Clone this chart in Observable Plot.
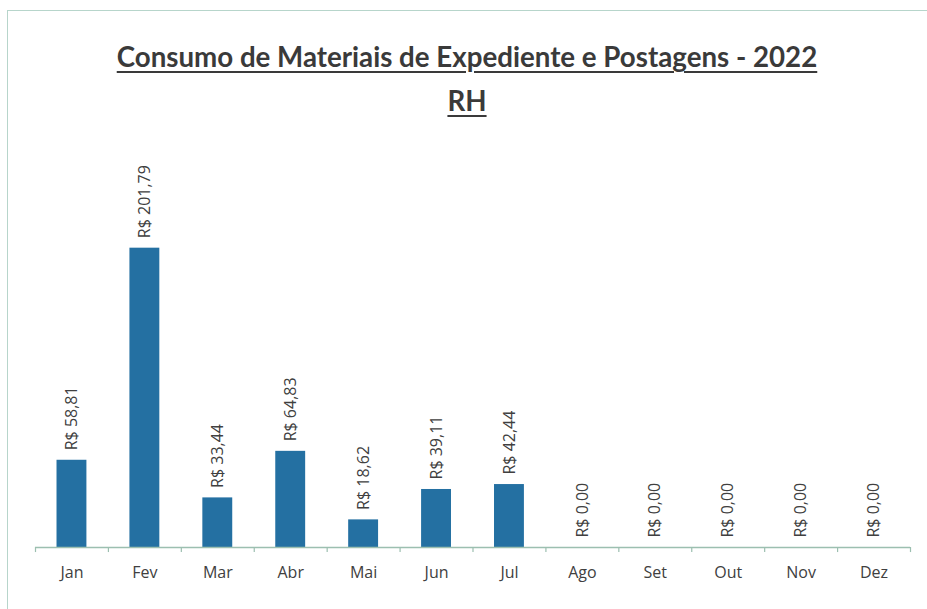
<!DOCTYPE html>
<html>
<head>
<meta charset="utf-8">
<script src="https://cdn.jsdelivr.net/npm/d3@7"></script>
<script src="https://cdn.jsdelivr.net/npm/@observablehq/plot@0.6"></script>
<style>
  html, body { margin: 0; padding: 0; background: #fff; }
  body { width: 927px; height: 609px; position: relative; overflow: hidden; font-family: "Open Sans", sans-serif; }
  #frame { position: absolute; left: 7px; top: 10px; width: 940px; height: 620px; border: 1.5px solid #b7d5cb; box-sizing: border-box; }
  .ttl { position: absolute; left: 0; width: 934px; text-align: center; font-family: Lato, sans-serif; font-weight: 700; font-size: 27.7px; color: #3a3a3a; text-decoration: underline; text-decoration-thickness: 2px; text-underline-offset: 4px; }
  #title { top: 40px; }
  #subtitle { top: 84px; }
  #chart { position: absolute; left: 0; top: 125px; }
</style>
</head>
<body>
<div id="frame"></div>
<div id="title" class="ttl">Consumo de Materiais de Expediente e Postagens - 2022</div>
<div id="subtitle" class="ttl">RH</div>
<div id="chart"></div>
<script>
const months = ["Jan","Fev","Mar","Abr","Mai","Jun","Jul","Ago","Set","Out","Nov","Dez"];
const values = [58.81, 201.79, 33.44, 64.83, 18.62, 39.11, 42.44, 0, 0, 0, 0, 0];
const valueLabels = ["R$ 58,81","R$ 201,79","R$ 33,44","R$ 64,83","R$ 18,62","R$ 39,11","R$ 42,44","R$ 0,00","R$ 0,00","R$ 0,00","R$ 0,00","R$ 0,00"];

const data = months.map((m, i) => ({month: m, value: values[i], label: valueLabels[i]}));

const W = 927, ML = 35, MR = 17;
const halfStep = (W - ML - MR) / months.length / 2;

const chart = Plot.plot({
  width: W,
  height: 484,
  marginLeft: ML,
  marginRight: MR,
  marginTop: 66,
  marginBottom: 62,
  style: {fontFamily: "'Open Sans', sans-serif", color: "#404040", background: "transparent"},
  x: {domain: months, paddingInner: 0.59, paddingOuter: 0.295, round: false, label: null},
  y: {domain: [0, 240], axis: null},
  marks: [
    Plot.barY(data, {x: "month", y: "value", fill: "#2470a2"}),
    Plot.ruleY([0], {stroke: "#9cbfb0", strokeWidth: 1.5}),
    Plot.ruleX(months, {x: d => d, y1: 0, y2: -3.4, dx: -halfStep, stroke: "#9cbfb0", strokeWidth: 1.2}),
    Plot.ruleX(months.slice(-1), {x: d => d, y1: 0, y2: -3.4, dx: halfStep, stroke: "#9cbfb0", strokeWidth: 1.2}),
    Plot.axisX({tickSize: 0, tickPadding: 19, fontSize: 16, label: null, fill: "#404040"}),
    Plot.text(data, {
      x: "month", y: "value", text: "label",
      rotate: -90, textAnchor: "start", lineAnchor: "middle",
      dy: -10,
      fontSize: 16, fill: "#404040", letterSpacing: 1.5
    })
  ]
});
document.getElementById("chart").appendChild(chart);
</script>
</body>
</html>
